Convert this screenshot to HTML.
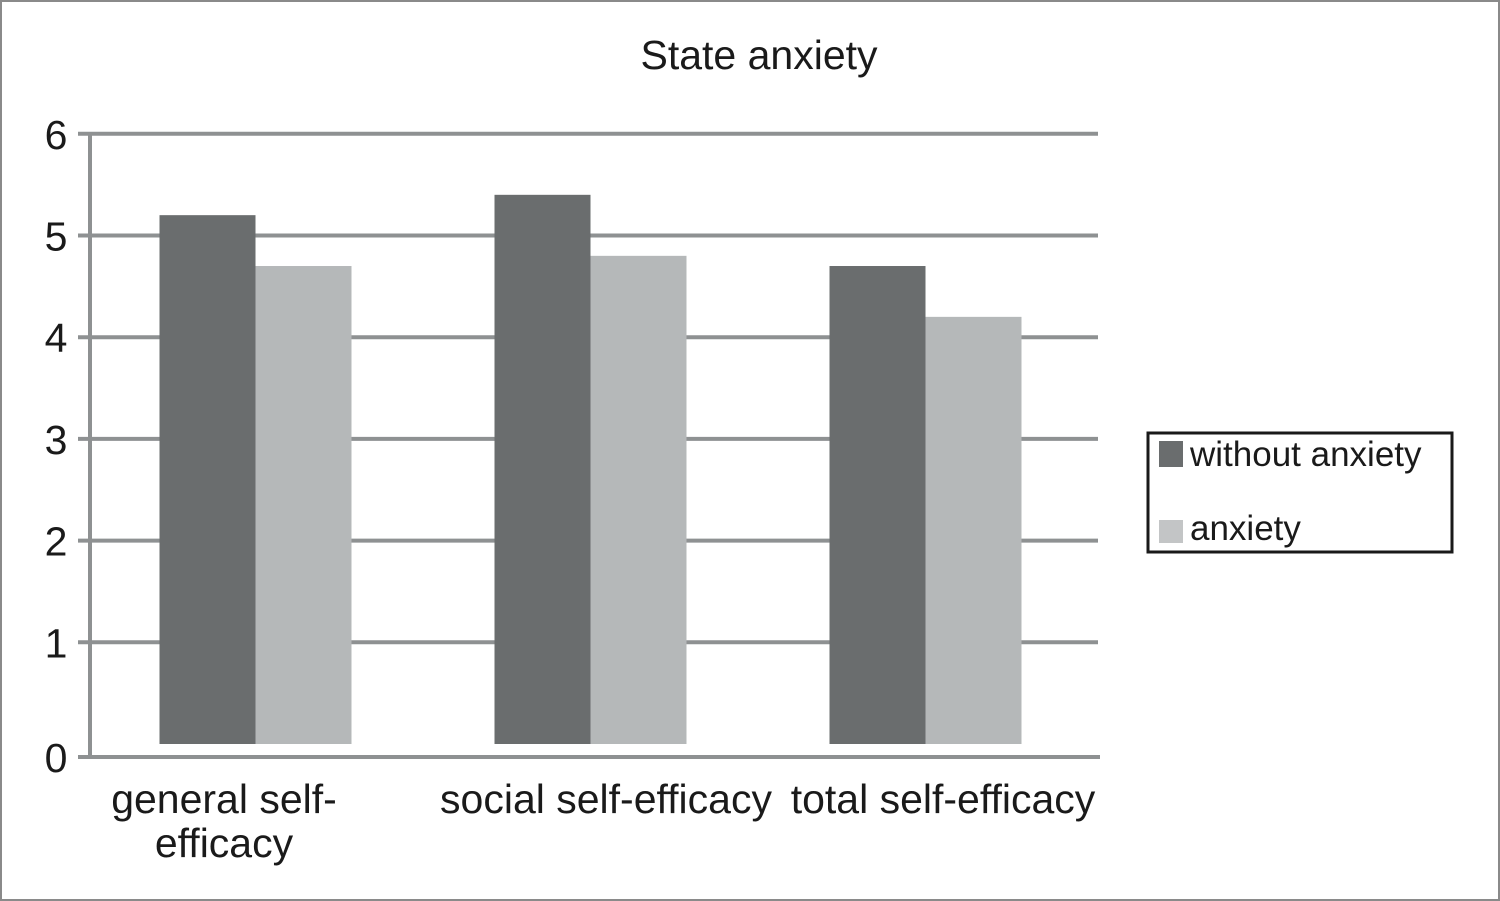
<!DOCTYPE html>
<html><head><meta charset="utf-8"><style>
html,body{margin:0;padding:0;background:#fff}
svg{display:block;font-family:"Liberation Sans",Arial,sans-serif}
</style></head><body>
<svg width="1500" height="901" viewBox="0 0 1500 901">
<rect x="1" y="1" width="1498" height="899" fill="#fff" stroke="#8a8a8a" stroke-width="2"/>
<text x="759" y="69" font-size="41" text-anchor="middle" fill="#1a1a1a">State anxiety</text>
<g id="grid"></g>
<g id="bars"></g>
<g id="labels"></g>
<g>
<rect x="1148" y="433" width="304" height="119" fill="#fff" stroke="#1a1a1a" stroke-width="3"/>
<rect x="1159" y="441" width="24" height="26" fill="#6a6d6e"/>
<text x="1190" y="466" font-size="35" fill="#1a1a1a">without anxiety</text>
<rect x="1159" y="520" width="24" height="23" fill="#c3c5c6"/>
<text x="1190" y="540" font-size="35" fill="#1a1a1a">anxiety</text>
</g>
</svg>
<script>
const categories = [["general self-","efficacy"],["social self-efficacy"],["total self-efficacy"]];
const withoutAnxiety = [5.2, 5.4, 4.7];
const anxiety = [4.7, 4.8, 4.2];
const yTicks = [0,1,2,3,4,5,6];

const NS="http://www.w3.org/2000/svg";
const y0=744, unit=101.7, plotL=88, plotR=1093, groupW=(plotR-plotL)/3, barW=96;
const y=v=>y0-v*unit;
function mk(tag,attrs,parent){const e=document.createElementNS(NS,tag);for(const k in attrs)e.setAttribute(k,attrs[k]);parent.appendChild(e);return e;}
const grid=document.getElementById('grid'),bars=document.getElementById('bars'),labels=document.getElementById('labels');
yTicks.forEach(t=>{
  if(t>0){const l=mk('line',{x1:78,x2:1098,y1:y(t),y2:y(t),stroke:'#8e9192','stroke-width':4},grid);
  
  }
  const tx=mk('text',{x:56,y:(t===0?757:y(t))+15,'font-size':41,'text-anchor':'middle',fill:'#1a1a1a'},labels);
  tx.textContent=t;
  
  
});
const ax=mk('line',{x1:90,x2:90,y1:134,y2:759,stroke:'#8e9192','stroke-width':4},grid);


const xa=mk('line',{x1:78,x2:1100,y1:757,y2:757,stroke:'#8e9192','stroke-width':4},grid);


categories.forEach((c,i)=>{
  const cx=plotL+groupW*(i+0.5);
  const b1=mk('rect',{x:cx-barW,y:y(withoutAnxiety[i]),width:barW,height:withoutAnxiety[i]*unit,fill:'#6a6d6e'},bars);
  
  
  const b2=mk('rect',{x:cx,y:y(anxiety[i]),width:barW,height:anxiety[i]*unit,fill:'#b5b8b9'},bars);
  
  
  const lx = i===0 ? 224 : (i===1 ? 606 : 943);
  c.forEach((line,j)=>{
    const t=mk('text',{x:lx,y:813+j*44,'font-size':41,'text-anchor':'middle',fill:'#1a1a1a'},labels);
    t.textContent=line;
    
    
  });
});
</script>
</body></html>
